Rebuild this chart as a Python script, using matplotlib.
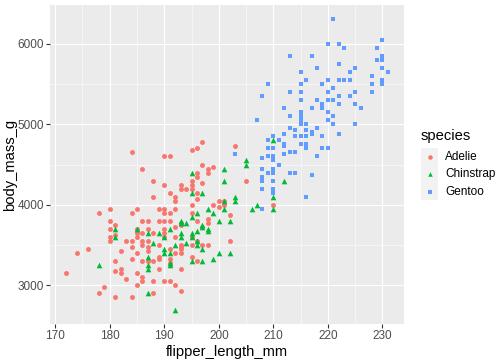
import matplotlib
matplotlib.use('Agg')
import matplotlib.pyplot as plt
from matplotlib.lines import Line2D
from matplotlib.patches import Rectangle

plt.rcParams['font.family'] = ['Liberation Sans', 'DejaVu Sans']

# values (flipper_length_mm, body_mass_g)
adelie_flipper = [197, 203, 196, 195, 184, 190, 191, 197, 199, 186, 198, 198, 196, 196, 188, 205, 195, 197,
                  190, 193, 195, 193, 194, 195, 191, 196, 188, 192, 196, 192, 201, 200, 195, 199, 201, 200, 210,
                  178, 180, 184, 185, 189, 190, 190, 192, 191, 195, 202,
                  180, 186, 187, 189, 190, 191, 193, 196, 198,
                  181, 180, 185, 187, 190, 192, 193, 197, 198,
                  185, 186, 188, 190, 185, 181, 180, 180, 183, 184, 186, 187, 190, 189, 192, 195, 196, 202,
                  186, 187, 184, 193, 193, 195, 198, 197,
                  176, 182, 187, 191, 193,
                  174, 185, 192, 193,
                  184, 188, 189, 189, 191, 195, 181, 186, 187, 191, 196,
                  172, 182, 182, 181, 185, 189, 193,
                  183, 186, 186, 188, 190, 191, 185, 192, 179, 193, 178, 188, 181, 184]
adelie_mass = [4775, 4725, 4700, 4675, 4650, 4600, 4600, 4500, 4475, 4450, 4450, 4400, 4400, 4350, 4300, 4300, 4300, 4275,
               4250, 4250, 4250, 4200, 4200, 4200, 4150, 4150, 4100, 4100, 4075, 4050, 4050, 4050, 4000, 4000, 4000, 3975, 4000,
               3900, 3950, 3900, 3950, 3950, 3950, 3900, 3950, 3900, 3900, 3875,
               3800, 3800, 3800, 3800, 3800, 3800, 3775, 3800, 3825,
               3750, 3700, 3700, 3700, 3700, 3725, 3750, 3725, 3775,
               3650, 3650, 3650, 3650, 3600, 3625, 3600, 3550, 3550, 3550, 3550, 3550, 3600, 3500, 3600, 3600, 3550, 3550,
               3500, 3475, 3475, 3500, 3475, 3500, 3500, 3500,
               3450, 3425, 3425, 3450, 3450,
               3400, 3400, 3400, 3400,
               3325, 3300, 3350, 3325, 3325, 3350, 3300, 3300, 3300, 3275, 3300,
               3150, 3200, 3150, 3175, 3150, 3200, 3200,
               3075, 3100, 3050, 3050, 3050, 3050, 3000, 3000, 2975, 2925, 2900, 2900, 2850, 2850]

chinstrap_flipper = [210, 205, 205, 201, 195, 201, 212, 195, 197, 203, 203, 201, 210, 207, 206, 210, 201, 198,
                     196, 199, 195, 200, 202, 193, 193, 194, 197, 197, 198, 198, 196, 181, 185, 191, 187, 189,
                     193, 195, 181, 190, 195, 193, 188, 194, 196, 192, 196, 197, 190, 190, 191, 200, 202, 187,
                     199, 195, 197, 191, 191, 178, 187, 187, 187, 192]
chinstrap_mass = [4800, 4550, 4500, 4450, 4400, 4300, 4300, 4150, 4150, 4100, 4050, 4050, 4100, 4000, 3950, 3950, 3950, 3950,
                  3900, 3900, 3850, 3800, 3800, 3800, 3775, 3775, 3750, 3725, 3700, 3675, 3675, 3700, 3700, 3700, 3650, 3650,
                  3650, 3650, 3600, 3600, 3600, 3600, 3525, 3525, 3550, 3500, 3500, 3450, 3450, 3400, 3400, 3400, 3400, 3350,
                  3325, 3300, 3300, 3275, 3250, 3250, 3250, 3200, 2900, 2700]

gentoo_flipper = [221, 230, 220, 222, 223, 229, 213, 217, 230, 229, 230, 222, 218, 225, 230, 215, 224, 231,
                  228, 216, 220, 222, 223, 224, 230, 209, 215, 219, 228, 230, 221, 213, 215, 220, 225, 228,
                  208, 222, 224, 215, 218, 220, 221, 219, 222, 225, 212, 217, 219, 226, 215, 220, 215, 213, 221,
                  207, 215, 220, 215, 216, 221, 225, 213, 218, 214, 216, 212, 217, 217, 222,
                  209, 210, 211, 214, 215, 216, 219, 212, 212, 215, 216, 216, 209, 210, 214, 213, 219, 220,
                  203, 212, 209, 210, 218, 208, 210, 211, 210, 208, 210, 209, 210, 213, 214, 217,
                  208, 208, 208, 210, 208, 210, 210, 210, 216, 208]
gentoo_mass = [6300, 6050, 6000, 6000, 5950, 5950, 5850, 5850, 5850, 5800, 5800, 5750, 5700, 5700, 5700, 5650, 5650, 5650,
               5600, 5550, 5550, 5550, 5550, 5550, 5550, 5500, 5500, 5500, 5500, 5500, 5450, 5400, 5400, 5400, 5400, 5400,
               5350, 5350, 5350, 5300, 5300, 5300, 5300, 5250, 5250, 5250, 5200, 5200, 5200, 5200, 5150, 5150, 5100, 5100, 5100,
               5050, 5050, 5050, 5000, 5000, 5000, 5000, 4950, 4950, 4925, 4925, 4875, 4900, 4875, 4875,
               4800, 4850, 4800, 4850, 4850, 4850, 4850, 4750, 4725, 4750, 4750, 4700, 4700, 4700, 4650, 4650, 4700, 4700,
               4625, 4625, 4600, 4600, 4600, 4575, 4550, 4500, 4450, 4450, 4425, 4400, 4400, 4400, 4400, 4375,
               4350, 4325, 4300, 4300, 4200, 4200, 4175, 4150, 4100, 3950]

species = ['Adelie', 'Chinstrap', 'Gentoo']
colors = ['#F8766D', '#00BA38', '#619CFF']
markers = ['o', '^', 's']

W, H = 504, 360
fig = plt.figure(figsize=(7, 5), dpi=72)
ax = fig.add_axes([50 / W, 36 / H, 354 / W, 319 / H])
ax.set_facecolor('#EBEBEB')
for s in ax.spines.values():
    s.set_visible(False)

ax.set_xlim(169.05, 233.95)
ax.set_ylim(2520, 6480)
ax.set_xticks(range(170, 231, 10))
ax.set_yticks([3000, 4000, 5000, 6000])
ax.set_xticks(range(175, 231, 10), minor=True)
ax.set_yticks([3500, 4500, 5500], minor=True)
ax.grid(which='major', color='white', lw=1.1)
ax.grid(which='minor', color='white', lw=0.55)
ax.set_axisbelow(True)
ax.tick_params(which='major', length=3.7, width=1.1, color='#333333', labelcolor='#4D4D4D',
               labelsize=11.7, pad=2)
ax.tick_params(which='minor', length=0)

# ggplot draws rows in order: Adelie, Gentoo, Chinstrap
ax.scatter(adelie_flipper, adelie_mass, s=24, marker='o', color=colors[0], linewidths=0, zorder=3)
ax.scatter(gentoo_flipper, gentoo_mass, s=22, marker='s', color=colors[2], linewidths=0, zorder=3)
ax.scatter(chinstrap_flipper, chinstrap_mass, s=32, marker='^', color=colors[1], linewidths=0, zorder=3)

ax.set_xlabel('flipper_length_mm', fontsize=14.7, labelpad=3)
ax.set_ylabel('body_mass_g', fontsize=14.7, labelpad=1)

# legend drawn by hand, ggplot style
fig.text(421 / W, 1 - 136 / H, 'species', fontsize=14.7, ha='left', va='center')
for i, (name, c, m) in enumerate(zip(species, colors, markers)):
    yc = 157 + i * 17.3
    fig.add_artist(Rectangle((421 / W, 1 - (yc + 8.6) / H), 17.3 / W, 17.3 / H,
                             transform=fig.transFigure, facecolor='#F2F2F2', edgecolor='none'))
    fig.add_artist(Line2D([429.6 / W], [1 - yc / H], marker=m, color=c, markersize=4.5,
                          markeredgewidth=0, linestyle='none', transform=fig.transFigure))
    fig.text(445 / W, 1 - yc / H, name, fontsize=11.7, ha='left', va='center')

fig.savefig('out.png', dpi=72)
